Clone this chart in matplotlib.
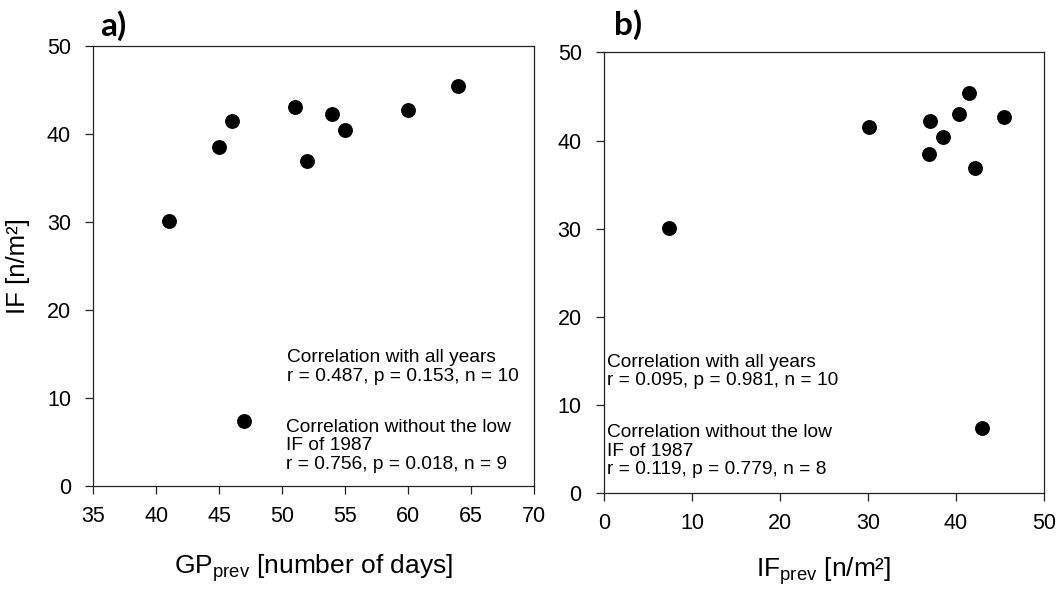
import matplotlib.pyplot as plt

plt.rcParams['font.family'] = ['Liberation Sans', 'DejaVu Sans']

# Werte
gp_prev = [41, 45, 46, 51, 52, 54, 55, 60, 64, 47]
if_prev = [7.4, 36.9, 30.1, 40.4, 42.2, 37.0, 38.5, 45.5, 41.5, 43.0]
if_val = [30.1, 38.5, 41.5, 43.0, 36.9, 42.2, 40.4, 42.7, 45.4, 7.4]

text_a1 = "Correlation with all years\nr = 0.487, p = 0.153, n = 10"
text_a2 = "Correlation without the low\nIF of 1987\nr = 0.756, p = 0.018, n = 9"
text_b1 = "Correlation with all years\nr = 0.095, p = 0.981, n = 10"
text_b2 = "Correlation without the low\nIF of 1987\nr = 0.119, p = 0.779, n = 8"

fig = plt.figure(figsize=(10.59, 5.89), dpi=100)
ax1 = fig.add_axes([0.0881, 0.1749, 0.4159, 0.7475])
ax2 = fig.add_axes([0.5703, 0.1625, 0.4155, 0.7487])

for ax in (ax1, ax2):
    for s in ax.spines.values():
        s.set_linewidth(0.9)
        s.set_color('#222222')
    ax.tick_params(labelsize=15.5, length=6, width=0.9, color='#222222')
    ax.tick_params(axis='y', pad=10)
    ax.tick_params(axis='x', pad=8.5)
    ax.set_ylim(0, 50)
    ax.set_yticks([0, 10, 20, 30, 40, 50])

# a)
ax1.scatter(gp_prev, if_val, s=115, color='black', zorder=3, linewidths=0)
ax1.set_xlim(35, 70)
ax1.set_xticks(range(35, 71, 5))
ax1.set_xlabel(r"GP$_{\mathregular{prev}}$ [number of days]", fontsize=19, labelpad=18)
ax1.set_ylabel("IF [n/m²]", fontsize=18.5, labelpad=12)
ax1.text(50.4, 15.5, text_a1, fontsize=13.8, va='top', ha='left', linespacing=1.1)
ax1.text(50.3, 7.6, text_a2, fontsize=13.8, va='top', ha='left', linespacing=1.1)

# b)
ax2.scatter(if_prev, if_val, s=115, color='black', zorder=3, linewidths=0)
ax2.set_xlim(0, 50)
ax2.set_xticks(range(0, 51, 10))
ax2.set_xlabel(r"IF$_{\mathregular{prev}}$ [n/m²]", fontsize=19, labelpad=15)
ax2.text(0.3, 15.8, text_b1, fontsize=13.8, va='top', ha='left', linespacing=1.1)
ax2.text(0.3, 7.8, text_b2, fontsize=13.8, va='top', ha='left', linespacing=1.1)

fig.text(99.7 / 1059, 1 - 36 / 589, "a)", fontsize=24, fontweight='bold',
         family='Lato', va='baseline', ha='left')
fig.text(614.5 / 1059, 1 - 34.5 / 589, "b)", fontsize=24, fontweight='bold',
         family='Lato', va='baseline', ha='left')

fig.savefig("out.png", dpi=100)
